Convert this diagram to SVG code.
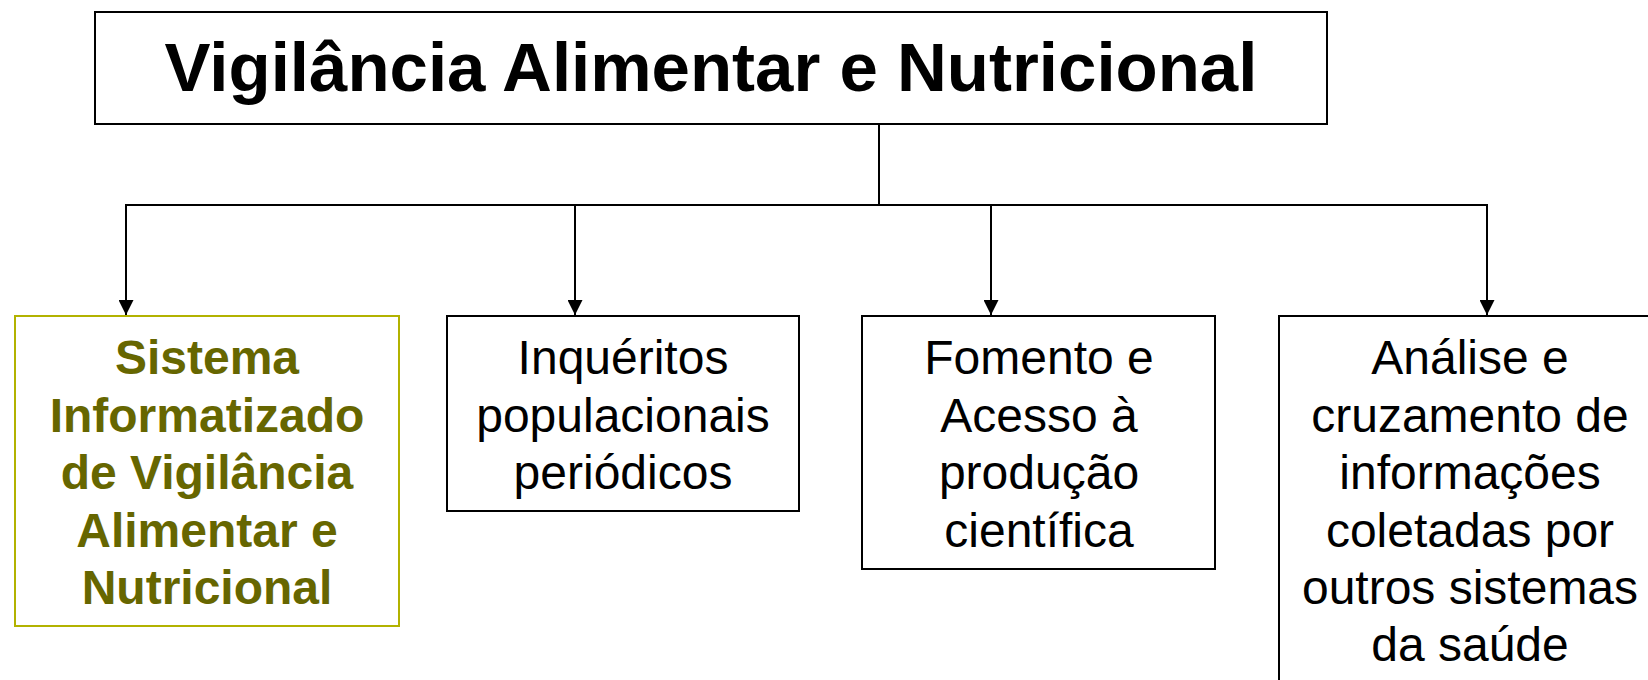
<svg xmlns="http://www.w3.org/2000/svg" width="1648" height="680" viewBox="0 0 1648 680">
<style>
.box{fill:#fff;stroke:#000;stroke-width:2}
.olive{fill:#fff;stroke:#b2b200;stroke-width:2}
.t{font-family:"Liberation Sans",Arial,sans-serif;font-size:48px;text-anchor:middle;fill:#000}
.tb{font-family:"Liberation Sans",Arial,sans-serif;font-size:48px;font-weight:bold;text-anchor:middle;fill:#666600}
.title{font-family:"Liberation Sans",Arial,sans-serif;font-size:69px;font-weight:bold;text-anchor:middle;fill:#000}
.ln{fill:none;stroke:#000;stroke-width:2}
</style>
<defs>
<marker id="arr" markerWidth="15" markerHeight="15" refX="15" refY="7.5" orient="auto" markerUnits="userSpaceOnUse">
<path d="M0,0 L15,7.5 L0,15 Z" fill="#000"/>
</marker>
</defs>
<rect width="1648" height="680" fill="#fff"/>
<g id="connectors">
<line class="ln" x1="879" y1="124" x2="879" y2="205"/>
<line class="ln" x1="126" y1="205" x2="1487" y2="205"/>
<line class="ln" x1="126" y1="204" x2="126" y2="315" marker-end="url(#arr)"/>
<line class="ln" x1="575" y1="204" x2="575" y2="315" marker-end="url(#arr)"/>
<line class="ln" x1="991" y1="204" x2="991" y2="315" marker-end="url(#arr)"/>
<line class="ln" x1="1487" y1="204" x2="1487" y2="315" marker-end="url(#arr)"/>
</g>
<g id="root">
<rect class="box" x="95" y="12" width="1232" height="112"/>
<text class="title" x="711" y="91">Vigilância Alimentar e Nutricional</text>
</g>
<g id="sisvan">
<rect class="olive" x="15" y="316" width="384" height="310"/>
<text class="tb" x="207" y="374">Sistema</text>
<text class="tb" x="207" y="431.5">Informatizado</text>
<text class="tb" x="207" y="489">de Vigilância</text>
<text class="tb" x="207" y="546.5">Alimentar e</text>
<text class="tb" x="207" y="604">Nutricional</text>
</g>
<g id="inqueritos">
<rect class="box" x="447" y="316" width="352" height="195"/>
<text class="t" x="623" y="374">Inquéritos</text>
<text class="t" x="623" y="431.5">populacionais</text>
<text class="t" x="623" y="489">periódicos</text>
</g>
<g id="fomento">
<rect class="box" x="862" y="316" width="353" height="253"/>
<text class="t" x="1039" y="374">Fomento e</text>
<text class="t" x="1039" y="431.5">Acesso à</text>
<text class="t" x="1039" y="489">produção</text>
<text class="t" x="1039" y="546.5">científica</text>
</g>
<g id="analise">
<rect class="box" x="1279" y="316" width="384" height="380"/>
<text class="t" x="1470" y="374">Análise e</text>
<text class="t" x="1470" y="431.5">cruzamento de</text>
<text class="t" x="1470" y="489">informações</text>
<text class="t" x="1470" y="546.5">coletadas por</text>
<text class="t" x="1470" y="604">outros sistemas</text>
<text class="t" x="1470" y="661">da saúde</text>
</g>
</svg>
